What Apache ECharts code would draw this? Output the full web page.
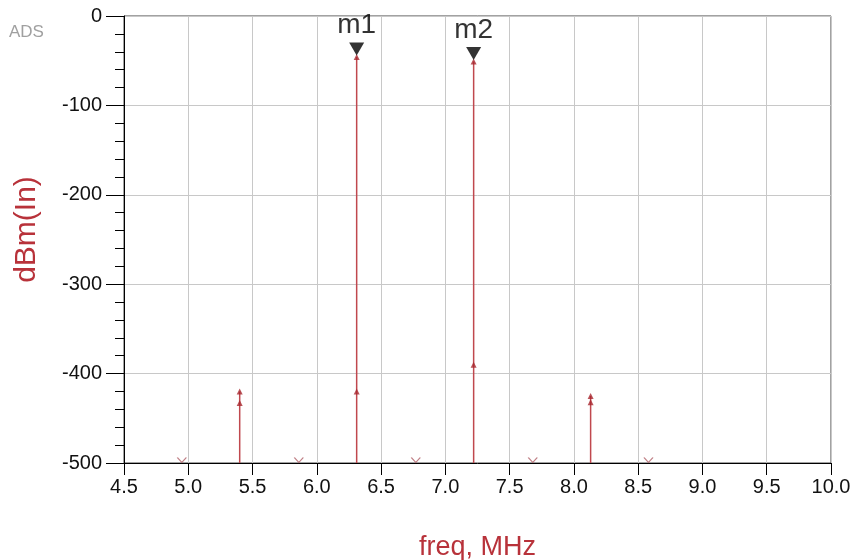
<!DOCTYPE html>
<html>
<head>
<meta charset="utf-8">
<script src="https://cdn.jsdelivr.net/npm/echarts@6/dist/echarts.min.js"></script>
<style>html,body{margin:0;padding:0;background:#fff}#c{width:854px;height:560px}</style>
</head>
<body>
<div id="c"></div>
<script>
// Spectral tones (MHz) with the two sample levels at each tone (dBm)
const toneFreq  = [5.40, 6.31, 7.22, 8.13];
const toneUpper = [-420, -46, -51, -425];
const toneLower = [-433, -420, -390, -432];
// Noise-floor bins (clipped at the bottom of the range)
const floorFreq  = [4.95, 5.86, 6.77, 7.68, 8.58];
const floorLevel = [-500, -500, -500, -500, -500];
// Markers
const markerNames = ['m1', 'm2'];
const markerFreq  = [6.31, 7.22];
const markerLevel = [-46, -51];
// Axis ticks
const xMin = 4.5, xMax = 10.0, xStep = 0.5;
const yMin = -500, yMax = 0, yStep = 100;

const RED = '#b8323a';
const FONT = 'Liberation Sans, Arial, sans-serif';

const stemData = toneFreq.map((f, i) => [f, Math.max(toneUpper[i], toneLower[i])]);
const pointData = [];
toneFreq.forEach((f, i) => { pointData.push([f, toneUpper[i]]); pointData.push([f, toneLower[i]]); });
const floorData = floorFreq.map((f, i) => [f, floorLevel[i]]);
const markerData = markerNames.map((n, i) => ({ name: n, value: [markerFreq[i], markerLevel[i]] }));

const chart = echarts.init(document.getElementById('c'), null, { renderer: 'canvas' });
chart.setOption({
  animation: false,
  backgroundColor: '#fff',
  graphic: [{
    type: 'text', left: 9, top: 24,
    style: { text: 'ADS', fill: '#a0a0a0', font: '17px ' + FONT }
  }],
  grid: { left: 124, right: 23, top: 16, bottom: 97, outerBoundsMode: 'none', containLabel: false,
    show: true, borderColor: '#444', borderWidth: 1, backgroundColor: 'transparent' },
  xAxis: {
    type: 'value', min: xMin, max: xMax, interval: xStep,
    name: 'freq, MHz', nameLocation: 'middle', nameGap: 71,
    nameTextStyle: { color: RED, fontSize: 27, fontFamily: FONT },
    axisLine: { show: true, onZero: false, lineStyle: { color: '#000', width: 1 } },
    axisTick: { show: true, length: 12, lineStyle: { color: '#000' } },
    axisLabel: { color: '#111', fontSize: 20, fontFamily: FONT, margin: 14, formatter: v => v.toFixed(1) },
    splitLine: { show: true, lineStyle: { color: '#c8c8c8', width: 1 } }
  },
  yAxis: {
    type: 'value', min: yMin, max: yMax, interval: yStep,
    name: 'dBm(In)', nameLocation: 'middle', nameGap: 82, nameRotate: 90,
    nameTextStyle: { color: RED, fontSize: 30, fontFamily: FONT, padding: [0, 0, 0, 20] },
    axisLine: { show: true, onZero: false, lineStyle: { color: '#000', width: 1 } },
    axisTick: { show: true, length: 18, lineStyle: { color: '#000' } },
    minorTick: { show: true, splitNumber: 5, length: 9, lineStyle: { color: '#000' } },
    axisLabel: { color: '#111', fontSize: 20, fontFamily: FONT, margin: 22 },
    splitLine: { show: true, lineStyle: { color: '#c8c8c8', width: 1 } }
  },
  series: [
    {
      type: 'custom', name: 'stems', data: stemData, z: 3,
      renderItem: function (params, api) {
        const f = api.value(0), v = api.value(1);
        const p0 = api.coord([f, yMin]);
        const p1 = api.coord([f, v]);
        return { type: 'line', shape: { x1: p0[0], y1: p0[1], x2: p1[0], y2: p1[1] },
          style: { stroke: '#c0484e', lineWidth: 1.5 } };
      }
    },
    {
      type: 'scatter', name: 'points', data: pointData, z: 4,
      symbol: 'triangle', symbolSize: [6, 6],
      itemStyle: { color: '#a8282f' }
    },
    {
      type: 'scatter', name: 'floor', data: floorData, z: 4, clip: false,
      symbol: 'path://M0,0 L4,4 L8,0', symbolSize: [9, 5], symbolOffset: [0, -3],
      itemStyle: { color: 'none', borderColor: '#b06068', borderWidth: 1 }
    },
    {
      type: 'scatter', name: 'markers', data: markerData, z: 5,
      symbol: 'triangle', symbolRotate: 180, symbolSize: [15, 13], symbolOffset: [0, -8],
      itemStyle: { color: '#000' },
      label: { show: true, position: 'top', distance: 3, formatter: '{b}', color: '#000', fontSize: 28, fontFamily: FONT }
    }
  ]
});
</script>
</body>
</html>
